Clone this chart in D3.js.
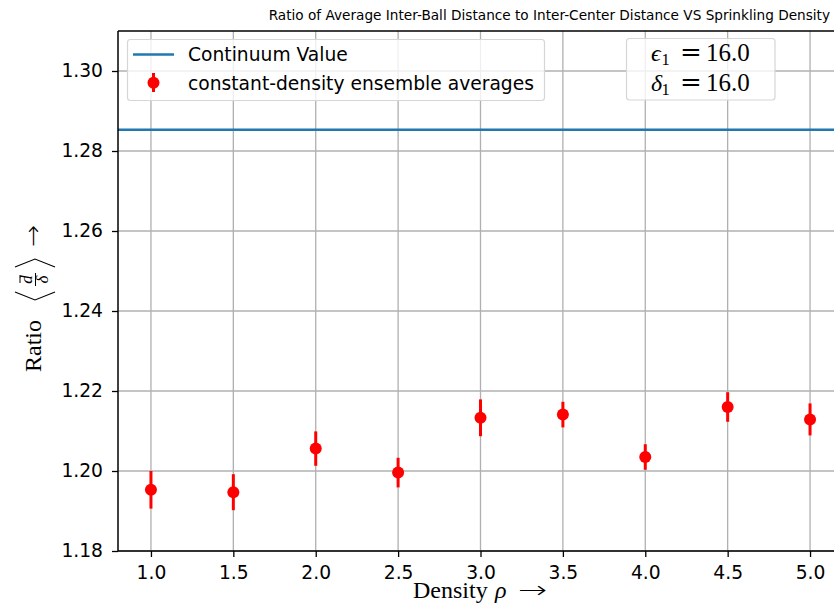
<!DOCTYPE html>
<html>
<head>
<meta charset="utf-8">
<script src="https://cdn.jsdelivr.net/npm/d3@7"></script>
<style>
  html, body { margin: 0; padding: 0; background: #fff; }
  svg { display: block; }
</style>
</head>
<body>
<div id="chart"></div>
<script>
// ---- data ----
const densities = [1.0, 1.5, 2.0, 2.5, 3.0, 3.5, 4.0, 4.5, 5.0];
const ratioMeans = [1.1953, 1.1947, 1.2056, 1.1996, 1.2133, 1.2141, 1.2035, 1.2160, 1.2129];
const ratioErrors = [0.0047, 0.0045, 0.0043, 0.0037, 0.0046, 0.0032, 0.0032, 0.0037, 0.0040];
const continuumValue = 1.2853;
const xTicks = [1.0, 1.5, 2.0, 2.5, 3.0, 3.5, 4.0, 4.5, 5.0];
const yTicks = [1.18, 1.20, 1.22, 1.24, 1.26, 1.28, 1.30];
const titleText = "Ratio of Average Inter-Ball Distance to Inter-Center Distance VS Sprinkling Density";
const legendLabels = ["Continuum Value", "constant-density ensemble averages"];
const paramSymbols = ["ϵ", "δ"];
const paramValues = ["16.0", "16.0"];

// ---- layout ----
const W = 834, H = 615;
const M = { left: 118, top: 31, right: 843, bottom: 551 };
const sans = "'DejaVu Sans', sans-serif";
const serif = "'Liberation Serif', 'DejaVu Serif', serif";

const svg = d3.select("#chart").append("svg").attr("width", W).attr("height", H);

const x = d3.scaleLinear().domain([0.8, 5.2]).range([M.left, M.right]);
const y = d3.scaleLinear().domain([1.18, 1.31]).range([M.bottom, M.top]);

// grid
const grid = svg.append("g");
grid.selectAll("line.gx").data(xTicks).join("line")
  .attr("x1", d => x(d)).attr("x2", d => x(d))
  .attr("y1", M.top).attr("y2", M.bottom)
  .attr("stroke", "#b0b0b0").attr("stroke-width", 1.3);
grid.selectAll("line.gy").data(yTicks).join("line")
  .attr("y1", d => y(d)).attr("y2", d => y(d))
  .attr("x1", M.left).attr("x2", M.right)
  .attr("stroke", "#b0b0b0").attr("stroke-width", 1.3);

// continuum line
svg.append("line")
  .attr("x1", M.left).attr("x2", M.right)
  .attr("y1", y(continuumValue)).attr("y2", y(continuumValue))
  .attr("stroke", "#1f77b4").attr("stroke-width", 2.6);

// error bars + points
const pts = densities.map((d, i) => ({ x: d, m: ratioMeans[i], e: ratioErrors[i] }));
svg.append("g").selectAll("line").data(pts).join("line")
  .attr("x1", d => x(d.x)).attr("x2", d => x(d.x))
  .attr("y1", d => y(d.m - d.e)).attr("y2", d => y(d.m + d.e))
  .attr("stroke", "#ff0000").attr("stroke-width", 3);
svg.append("g").selectAll("circle").data(pts).join("circle")
  .attr("cx", d => x(d.x)).attr("cy", d => y(d.m)).attr("r", 6)
  .attr("fill", "#ff0000");

// axes
const xAxis = d3.axisBottom(x).tickValues(xTicks).tickFormat(d3.format(".1f")).tickSize(6).tickPadding(9);
const yAxis = d3.axisLeft(y).tickValues(yTicks).tickFormat(d3.format(".2f")).tickSize(6).tickPadding(9);
const gx = svg.append("g").attr("transform", `translate(0,${M.bottom})`).call(xAxis);
const gy = svg.append("g").attr("transform", `translate(${M.left},0)`).call(yAxis);
[gx, gy].forEach(g => {
  g.select(".domain").remove();
  g.selectAll(".tick line").attr("stroke", "#000").attr("stroke-width", 1.3);
  g.selectAll(".tick text").attr("fill", "#000").style("font-family", sans).style("font-size", "18.7px");
});

// spines
svg.append("line").attr("x1", M.left).attr("x2", M.left).attr("y1", M.top).attr("y2", M.bottom)
  .attr("stroke", "#000").attr("stroke-width", 1.5);
svg.append("line").attr("x1", M.left).attr("x2", M.right).attr("y1", M.bottom).attr("y2", M.bottom)
  .attr("stroke", "#000").attr("stroke-width", 1.5);
svg.append("line").attr("x1", M.left).attr("x2", M.right).attr("y1", M.top).attr("y2", M.top)
  .attr("stroke", "#000").attr("stroke-width", 1.5);

// title
svg.append("text").attr("x", 830).attr("y", 20).attr("text-anchor", "end")
  .style("font-family", sans).style("font-size", "13.65px").attr("fill", "#000")
  .text(titleText);

// x label
svg.append("text").attr("x", 413).attr("y", 598)
  .style("font-family", serif).style("font-size", "24px").attr("fill", "#000").text("Density");
svg.append("text").attr("x", 495).attr("y", 598)
  .style("font-family", serif).style("font-size", "24px").style("font-style", "italic").attr("fill", "#000").text("ρ");
svg.append("text").attr("transform", "translate(518,598) scale(1.45,1)")
  .style("font-family", sans).style("font-weight", "200").style("font-size", "24px").attr("fill", "#000").text("→");

// y label (rotated group)
const yl = svg.append("g").attr("transform", "translate(41,291) rotate(-90)");
yl.append("text").attr("x", -81).attr("y", 0)
  .style("font-family", serif).style("font-size", "24px").attr("fill", "#000").text("Ratio");
// angle brackets
yl.append("path").attr("d", "M -1,-26 L -9,-6 L -1,14").attr("fill", "none").attr("stroke", "#000").attr("stroke-width", 1.1);
yl.append("path").attr("d", "M 24,-26 L 32,-6 L 24,14").attr("fill", "none").attr("stroke", "#000").attr("stroke-width", 1.1);
// fraction d-bar over delta
yl.append("text").attr("x", 11.5).attr("y", -9).attr("text-anchor", "middle")
  .style("font-family", serif).style("font-size", "17px").style("font-style", "italic").attr("fill", "#000").text("d");
yl.append("line").attr("x1", 8).attr("x2", 16).attr("y1", -21).attr("y2", -21).attr("stroke", "#000").attr("stroke-width", 1);
yl.append("line").attr("x1", 5).attr("x2", 18).attr("y1", -5.5).attr("y2", -5.5).attr("stroke", "#000").attr("stroke-width", 1);
yl.append("text").attr("x", 11.5).attr("y", 7).attr("text-anchor", "middle")
  .style("font-family", serif).style("font-size", "17px").style("font-style", "italic").attr("fill", "#000").text("δ");
yl.append("text").attr("transform", "translate(44,0) scale(1.1,1)")
  .style("font-family", sans).style("font-weight", "200").style("font-size", "24px").attr("fill", "#000").text("→");

// legend
const lg = svg.append("g");
lg.append("rect").attr("x", 127.5).attr("y", 39.5).attr("width", 417).attr("height", 61).attr("rx", 3)
  .attr("fill", "rgba(255,255,255,0.8)").attr("stroke", "#d6d6d6").attr("stroke-width", 1.2);
lg.append("line").attr("x1", 133).attr("x2", 174).attr("y1", 54.5).attr("y2", 54.5)
  .attr("stroke", "#1f77b4").attr("stroke-width", 2.6);
lg.append("line").attr("x1", 153.5).attr("x2", 153.5).attr("y1", 73).attr("y2", 92)
  .attr("stroke", "#ff0000").attr("stroke-width", 3);
lg.append("circle").attr("cx", 153.5).attr("cy", 82.7).attr("r", 6).attr("fill", "#ff0000");
lg.selectAll("text").data(legendLabels).join("text")
  .attr("x", 188).attr("y", (d, i) => 54.5 + i * 28.5).attr("dy", "0.36em")
  .style("font-family", sans).style("font-size", "18.7px").attr("fill", "#000")
  .text(d => d);

// parameter text box
const pb = svg.append("g");
pb.append("rect").attr("x", 626.5).attr("y", 38.5).attr("width", 148.5).attr("height", 61.5).attr("rx", 3)
  .attr("fill", "rgba(255,255,255,0.8)").attr("stroke", "#d6d6d6").attr("stroke-width", 1.2);
paramSymbols.forEach((s, i) => {
  const by = 60.5 + i * 30;
  pb.append("text").attr("x", 651).attr("y", by)
    .style("font-family", serif).style("font-size", "24px").style("font-style", "italic").attr("fill", "#000").text(s);
  pb.append("text").attr("x", 661.5).attr("y", by + 4)
    .style("font-family", serif).style("font-size", "16.5px").attr("fill", "#000").text("1");
  pb.append("text").attr("x", 680).attr("y", by)
    .style("font-family", "'DejaVu Serif', serif").style("font-weight", "200").style("font-size", "26px").attr("fill", "#000").text("=");
  pb.append("text").attr("x", 706).attr("y", by)
    .style("font-family", serif).style("font-size", "25px").attr("fill", "#000").text(paramValues[i]);
});
</script>
</body>
</html>
